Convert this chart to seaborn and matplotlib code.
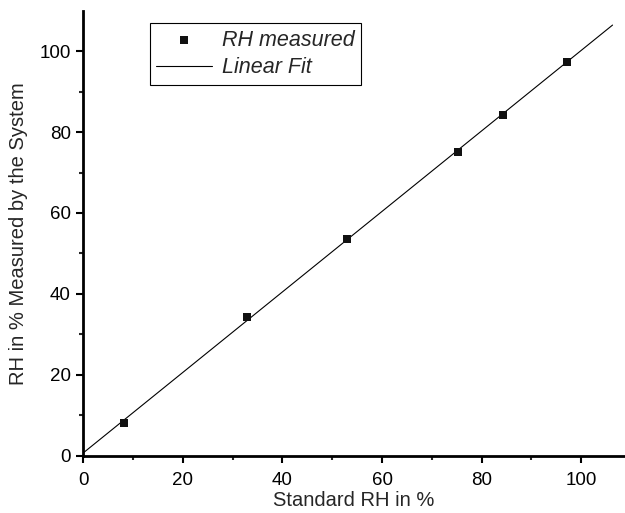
import numpy as np
import pandas as pd
import matplotlib
matplotlib.use("Agg")
import matplotlib.pyplot as plt
import seaborn as sns

standard_rh = [8.2, 32.8, 53.0, 75.2, 84.2, 97.1]
measured_rh = [8.2, 34.3, 53.6, 75.1, 84.3, 97.4]
fit_range = [0.0, 106.3]
x_ticks = [0, 20, 40, 60, 80, 100]
y_ticks = [0, 20, 40, 60, 80, 100]

sns.set_style("ticks")
plt.rcParams['font.family'] = ['Liberation Sans', 'DejaVu Sans']

slope, intercept = np.polyfit(standard_rh, measured_rh, 1)
fit_x = np.array(fit_range)
fit_df = pd.DataFrame({"x": fit_x, "y": slope * fit_x + intercept})
pts_df = pd.DataFrame({"x": standard_rh, "y": measured_rh})

fig = plt.figure(figsize=(6.25, 5.13), dpi=100)
ax = fig.add_axes([0.1333, 0.1117, 0.8667, 0.8674])

sns.lineplot(data=fit_df, x="x", y="y", ax=ax, color="black", linewidth=0.8,
             label="Linear Fit", zorder=2)
sns.scatterplot(data=pts_df, x="x", y="y", ax=ax, marker="s", s=38,
                color="#111111", edgecolor="#111111", linewidth=0,
                label="RH measured", zorder=3)

ax.set_xlim(0, 108.8)
ax.set_ylim(0, 110)
ax.set_xticks(x_ticks)
ax.set_yticks(y_ticks)
ax.set_xticks([10, 30, 50, 70, 90], minor=True)
ax.set_yticks([10, 30, 50, 70, 90], minor=True)
ax.tick_params(axis="both", which="major", direction="out", length=5, width=1.5,
               labelsize=13.5, colors="black", pad=4)
ax.tick_params(axis="x", which="major", pad=7)
ax.tick_params(axis="both", which="minor", direction="out", length=3, width=1.5)
for side in ["top", "right"]:
    ax.spines[side].set_visible(False)
for side in ["left", "bottom"]:
    ax.spines[side].set_linewidth(2)
    ax.spines[side].set_color("black")

ax.set_xlabel("Standard RH in %", fontsize=14.5, labelpad=1)
ax.set_ylabel("RH in % Measured by the System", fontsize=14.5, labelpad=8)

handles, labels = ax.get_legend_handles_labels()
order = [labels.index("RH measured"), labels.index("Linear Fit")]
leg = ax.legend([handles[i] for i in order], [labels[i] for i in order],
                loc="upper left", bbox_to_anchor=(0.123, 0.972), frameon=True,
                fancybox=False, edgecolor="black", framealpha=1,
                prop={"style": "italic", "size": 15.5}, handlelength=2.6,
                borderpad=0.3, borderaxespad=0, labelspacing=0.3,
                handletextpad=0.45, markerscale=1.0)
leg.get_frame().set_linewidth(0.8)

fig.savefig("out.png", dpi=100)
